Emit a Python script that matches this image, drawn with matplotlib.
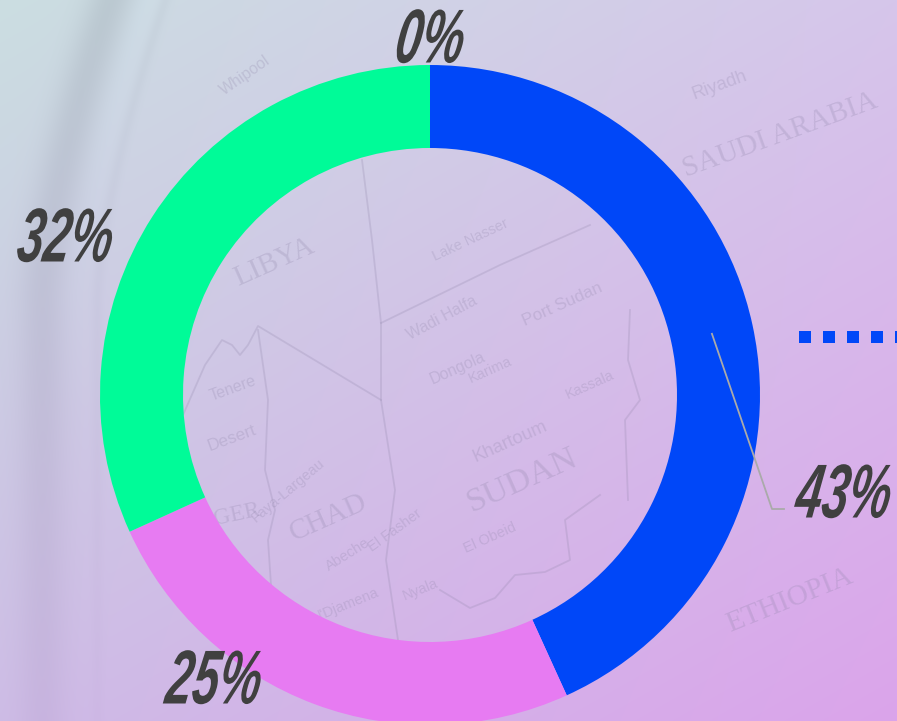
import numpy as np
import matplotlib
matplotlib.use("Agg")
import matplotlib.pyplot as plt
from matplotlib.patheffects import AbstractPathEffect
from matplotlib.transforms import Affine2D

W, H = 897, 721
CX, CY, RO, RI = 430, 395, 330, 247

# chart data
values = [43.2, 25.0, 31.8, 0]
labels = ["43%", "25%", "32%", "0%"]
colors = ["#0047F8", "#E77BF2", "#00FB98", "#3FE0D0"]

# faint map lettering of the backdrop image: text, x, y, size, rotation
map_names = ["LIBYA", "CHAD", "SUDAN", "Khartoum", "Wadi Halfa", "Port Sudan", "Dongola", "Karima",
             "Tenere", "Desert", "Faya-Largeau", "Abeche", "El Fasher", "El Obeid", "Kassala",
             "ETHIOPIA", "Riyadh", "SAUDI ARABIA", "N'Djamena", "Nyala", "Lake Nasser", "Whipool", "GER"]
map_x = [274, 328, 522, 510, 442, 562, 458, 490, 233, 232, 288, 348, 395, 490, 590, 790, 720, 780, 345, 420, 470, 245, 237]
map_y = [262, 518, 480, 442, 318, 304, 368, 370, 388, 438, 490, 555, 530, 538, 385, 600, 85, 135, 605, 590, 240, 75, 515]
map_s = [22, 22, 26, 14, 12, 13, 12, 11, 12, 13, 11, 11, 11, 11, 11, 22, 14, 22, 11, 11, 11, 12, 18]
map_r = [24, 24, 24, 24, 28, 24, 24, 24, 20, 20, 40, 32, 36, 24, 24, 22, 20, 20, 22, 22, 25, 35, 12]


class Squeeze(AbstractPathEffect):
    """Narrow and slant the glyph outlines about a pivot, as the brush lettering is tall and thin."""

    def __init__(self, x, y, sx, skew):
        super().__init__()
        self.t = Affine2D().translate(-x, -y).scale(sx, 1).skew_deg(skew, 0).translate(x, y)

    def draw_path(self, renderer, gc, tpath, affine, rgbFace=None):
        renderer.draw_path(gc, tpath, affine + self.t, rgbFace)


fig = plt.figure(figsize=(W / 100, H / 100), dpi=100)

# backdrop
bg = fig.add_axes([0, 0, 1, 1], zorder=0)
yy, xx = np.mgrid[0:1:H * 1j, 0:1:W * 1j]
tl, tr = np.array([203, 222, 225.]), np.array([214, 198, 235.])
bl, br = np.array([206, 188, 230.]), np.array([219, 164, 235.])
img = ((1 - xx) * (1 - yy))[..., None] * tl + (xx * (1 - yy))[..., None] * tr \
    + ((1 - xx) * yy)[..., None] * bl + (xx * yy)[..., None] * br
px = xx * W
py = yy * H
arc = 42 + 68 * (np.clip(300 - py, 0, None) / 300) ** 1.5
fade = 1 - 0.6 * np.clip(py / H, 0, 1)
shade = np.exp(-((px - arc) / 24) ** 2) * fade
shade2 = np.exp(-((px - arc - 55) / 6) ** 2) * 0.3 * fade
light = np.exp(-((px - arc - 36) / 14) ** 2) * np.clip(1 - py / 400, 0, 1) * 0.6
img = img - (shade + shade2)[..., None] * np.array([17, 18, 17.]) + light[..., None] * np.array([3, 5, 6.])
bg.imshow(np.clip(img, 0, 255) / 255, extent=(0, W, H, 0), aspect="auto", interpolation="bilinear")
ink = "#8E84A8"
for t, x, y, s, r in zip(map_names, map_x, map_y, map_s, map_r):
    bg.text(x, y, t, fontsize=s * 0.95, rotation=r, ha="center", va="center", color=ink, alpha=0.26,
            family="Liberation Serif" if t.isupper() else "Liberation Sans")
borders = [
    ([183, 205, 222, 232, 240, 248, 258, 381], [415, 365, 340, 345, 355, 345, 326, 400]),
    ([381, 500, 590], [323, 265, 225]),
    ([362, 372, 381, 381, 395, 386, 398], [160, 240, 323, 400, 490, 560, 640]),
    ([258, 268, 265, 275, 268, 272], [330, 400, 470, 510, 540, 600]),
    ([440, 470, 495, 515, 545, 570, 565, 600], [590, 608, 598, 575, 572, 560, 520, 495]),
    ([630, 628, 640, 625, 628], [310, 360, 400, 420, 500]),
]
for xs, ys in borders:
    bg.plot(xs, ys, color=ink, alpha=0.24, lw=1.3)
bg.set_xlim(0, W)
bg.set_ylim(H, 0)
bg.axis("off")

# donut
ax = fig.add_axes([(CX - RO) / W, (H - CY - RO) / H, 2 * RO / W, 2 * RO / H], zorder=2)
ax.patch.set_alpha(0)
wedges, _ = ax.pie(values, colors=colors, startangle=90, counterclock=False, radius=1,
                   wedgeprops=dict(width=1 - RI / RO, linewidth=0), frame=False)
ax.set_xlim(-1, 1)
ax.set_ylim(-1, 1)
ax.set_aspect("equal")
for w in wedges:
    w.set_clip_on(False)

# overlay in pixel space
ov = fig.add_axes([0, 0, 1, 1], zorder=3)
ov.patch.set_alpha(0)
ov.set_xlim(0, W)
ov.set_ylim(H, 0)
ov.axis("off")

# leader of the largest slice starts mid-ring
ang = np.deg2rad(values[0] / sum(values) * 360 / 2)
rm = (RO + RI) / 2
ov.plot([CX + rm * np.sin(ang), 772, 784], [CY - rm * np.cos(ang), 509, 509], color="#AAAAAA", lw=1.3)

# dotted line running off the right edge
ov.plot([799, W + 20], [337, 337], color=colors[0], lw=12 * 0.72, dashes=(1, 1), dash_capstyle="butt")

pos = [(891, 498, "right"), (214, 684, "center"), (18, 242, "left"), (430, 43, "center")]
for t, (x, y, ha) in zip(labels, pos):
    ov.text(x, y, t, family="Liberation Sans", style="italic", weight="bold", fontsize=55, color="#404040",
            ha=ha, va="center", path_effects=[Squeeze(x, H - y, 0.62, 9)])

fig.savefig("out.png", dpi=100)
